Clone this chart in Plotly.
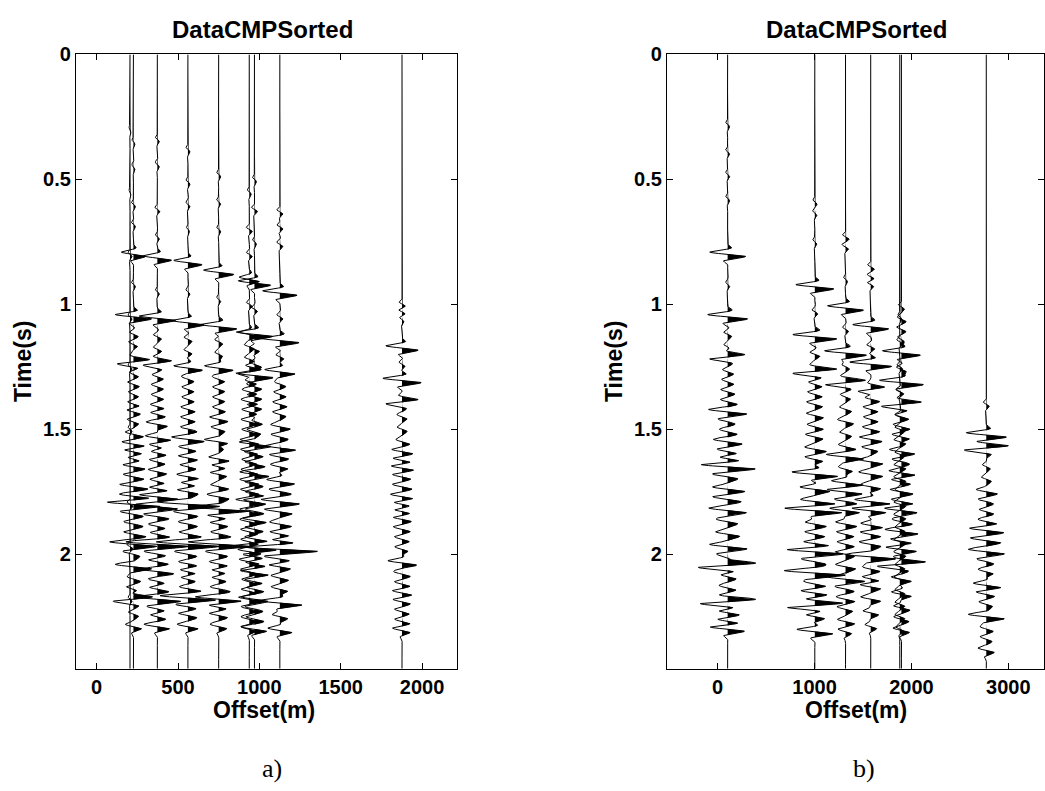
import numpy as np
import plotly.graph_objects as go

# ---------------- data ----------------
# panel a) trace offsets (m)
left_offsets = [205, 226, 373, 561, 750, 938, 970, 1126, 1877]
# event times (s) per trace
left_times = [
    [0.30, 0.55, 0.80, 1.05, 1.25, 1.50, 1.80, 1.97, 2.18],
    [0.35, 0.45, 0.60, 0.68, 0.80, 0.92, 1.05, 1.12, 1.16, 1.23, 1.28, 1.32, 1.36, 1.40, 1.43, 1.47, 1.52, 1.56,
     1.59, 1.62, 1.65, 1.69, 1.73, 1.77, 1.80, 1.84, 1.88, 1.92, 1.96, 2.00, 2.05, 2.10, 2.14, 2.18, 2.24, 2.29],
    [0.34, 0.44, 0.62, 0.73, 0.815, 0.95, 1.056, 1.13, 1.18, 1.235, 1.29, 1.33, 1.37, 1.41, 1.44, 1.48, 1.535,
     1.57, 1.595, 1.63, 1.67, 1.71, 1.74, 1.77, 1.81, 1.85, 1.89, 1.92, 1.96, 2.00, 2.03, 2.07, 2.11, 2.14, 2.18,
     2.22, 2.25, 2.29],
    [0.38, 0.51, 0.60, 0.70, 0.833, 0.95, 1.074, 1.14, 1.19, 1.255, 1.30, 1.34, 1.38, 1.42, 1.46, 1.50, 1.54,
     1.58, 1.615, 1.65, 1.69, 1.72, 1.75, 1.80, 1.84, 1.88, 1.92, 1.96, 2.00, 2.04, 2.07, 2.10, 2.14, 2.175,
     2.21, 2.245, 2.29],
    [0.48, 0.59, 0.70, 0.872, 0.98, 1.09, 1.15, 1.20, 1.255, 1.30, 1.34, 1.38, 1.42, 1.46, 1.50, 1.55, 1.57,
     1.62, 1.65, 1.68, 1.73, 1.77, 1.82, 1.85, 1.88, 1.92, 1.96, 2.00, 2.04, 2.07, 2.10, 2.14, 2.18, 2.21,
     2.245, 2.29],
    [0.55, 0.70, 0.80, 0.90, 1.00, 1.12, 1.17, 1.22, 1.27, 1.31, 1.35, 1.39, 1.43, 1.47, 1.51, 1.55, 1.59,
     1.63, 1.67, 1.71, 1.75, 1.79, 1.83, 1.87, 1.91, 1.95, 1.99, 2.03, 2.07, 2.11, 2.15, 2.18, 2.22, 2.26, 2.30],
    [0.50, 0.62, 0.75, 0.915, 1.02, 1.12, 1.18, 1.24, 1.285, 1.33, 1.37, 1.41, 1.45, 1.47, 1.51, 1.56, 1.60,
     1.64, 1.68, 1.72, 1.76, 1.79, 1.83, 1.865, 1.90, 1.94, 1.975, 2.01, 2.04, 2.075, 2.11, 2.14, 2.18, 2.22,
     2.26, 2.30],
    [0.63, 0.69, 0.76, 0.955, 1.05, 1.145, 1.21, 1.27, 1.32, 1.36, 1.40, 1.44, 1.49, 1.53, 1.575, 1.61, 1.65,
     1.71, 1.75, 1.79, 1.83, 1.88, 1.92, 1.95, 1.98, 2.02, 2.05, 2.095, 2.14, 2.195, 2.25, 2.305],
    [1.00, 1.03, 1.06, 1.175, 1.24, 1.305, 1.39, 1.45, 1.50, 1.55, 1.59, 1.625, 1.655, 1.69, 1.73, 1.77, 1.80,
     1.83, 1.86, 1.90, 1.94, 1.98, 2.035, 2.08, 2.12, 2.155, 2.19, 2.23, 2.27, 2.305],
]
# event amplitudes (relative) per trace
left_amps = [
    [1, 1, 2, 2, 2, 2, 3, 3, 2],
    [1.5, 1.5, 2, 2, 12, 2, 18, 4, 4, -16, 4, 5, 4, 5, 6, 5, 8, 10, 8, 5, 10, 8, 12, 12, 25, 8, 8, 8, 22, 6,
     18, 6, 6, -20, 5, 8],
    [2, 2, 2.5, 2, 14, 2, 18, 4, 4, -14, 5, 5, 5, 6, 6, 10, 12, 6, 8, 6, 8, 6, 8, 17, 18, 10, 7, 6, 30, 7, 8,
     15, 6, 7, 22, 6, 6, 12],
    [2, 2, 2, 1.5, 14, 2, 16, 4, 4, 14, 5, 5, 5, 6, 6, 6, 15, 6, 8, 6, 10, 6, 10, 30, 8, 8, 7, 30, 7, 8, 7, 6,
     7, 26, 6, 8, 10],
    [2, 2, 2, 15, 2, 18, 4, 4, 14, 5, 5, 5, 5, 8, 6, 16, 8, 10, 6, 8, 8, 10, 29, 7, 8, 6, 29, 7, 8, 6, 6, 7,
     22, 6, 8, 8],
    [2, 3, 3, 10, 3, 10, 5, 5, -12, 6, 6, 7, 6, 7, 6, 8, 7, 6, 7, 8, 7, 12, 7, 8, 7, 7, 10, 8, 7, 6, 7, 10, 6,
     7, 7],
    [2, 3, 2, 16, 3, 18, 5, 5, 18, 6, 6, 6, 6, 8, 6, 15, 7, 8, 13, 7, 8, 10, 7, 10, 7, 8, 20, 7, 8, 12, 7, 7,
     12, 7, 7, 12],
    [3, 3, 3, 17, 3, 19, 4, 15, 5, 5, 6, 6, 9, 7, 14, 7, 8, 13, 8, 17, 12, 10, 8, 8, 36, 8, 10, 8, 8, 22, 8, 12],
    [3, 3, 2, 16, 3, 19, -16, 5, 5, 6, 9, 7, 10, 7, 8, 10, 7, 7, 8, 7, 6, 6, 14, 7, 6, 8, 7, 6, 6, 8],
]

# panel b) trace offsets (m)
right_offsets = [103, 1003, 1320, 1580, 1880, 1897, 2773]
right_times = [
    [0.28, 0.39, 0.48, 0.576, 0.80, 0.92, 1.05, 1.12, 1.17, 1.21, 1.27, 1.31, 1.35, 1.39, 1.43, 1.47, 1.51,
     1.55, 1.59, 1.62, 1.65, 1.69, 1.74, 1.78, 1.825, 1.87, 1.92, 1.97, 2.01, 2.045, 2.09, 2.135, 2.19, 2.235,
     2.27, 2.30],
    [0.59, 0.635, 0.75, 0.93, 1.03, 1.13, 1.20, 1.268, 1.32, 1.36, 1.40, 1.445, 1.49, 1.53, 1.58, 1.62, 1.68,
     1.74, 1.79, 1.825, 1.88, 1.92, 1.96, 1.99, 2.03, 2.075, 2.12, 2.155, 2.205, 2.25, 2.31],
    [0.73, 0.77, 0.90, 1.015, 1.10, 1.195, 1.25, 1.313, 1.37, 1.42, 1.47, 1.52, 1.57, 1.61, 1.66, 1.715, 1.75,
     1.79, 1.825, 1.88, 1.92, 1.96, 2.00, 2.05, 2.10, 2.14, 2.18, 2.22, 2.27, 2.31],
    [0.85, 0.89, 0.92, 1.09, 1.17, 1.24, 1.34, 1.38, 1.42, 1.46, 1.50, 1.54, 1.58, 1.63, 1.68, 1.73, 1.79,
     1.825, 1.885, 1.92, 1.96, 2.01, 2.06, 2.10, 2.13, 2.18, 2.235, 2.29],
    [1.05, 1.15, 1.25, 1.35, 1.45, 1.50, 1.55, 1.60, 1.65, 1.70, 1.75, 1.80, 1.85, 1.90, 1.95, 2.00, 2.05,
     2.10, 2.15, 2.20, 2.25, 2.30],
    [1.01, 1.06, 1.10, 1.14, 1.195, 1.26, 1.313, 1.40, 1.45, 1.49, 1.53, 1.59, 1.63, 1.675, 1.71, 1.75, 1.79,
     1.825, 1.87, 1.91, 1.95, 1.98, 2.04, 2.10, 2.16, 2.215, 2.26, 2.305],
    [1.40, 1.523, 1.575, 1.65, 1.70, 1.75, 1.79, 1.83, 1.87, 1.905, 1.945, 1.99, 2.03, 2.07, 2.125, 2.16,
     2.20, 2.25, 2.30, 2.34, 2.385],
]
right_amps = [
    [2, 2, 2, 2, 18, 2, 20, 4, 4, -18, 5, 5, 6, 6, 18, 6, 7, 13, 8, 8, 26, 10, 15, 12, 18, 10, 12, 18, 8, -30,
     8, 8, -28, 10, 8, 17],
    [2, 2, 2, 19, 3, 22, 5, -22, 6, 6, 7, 8, 7, 8, 10, 8, 23, 15, 14, 27, 10, 8, 10, 27, 8, 30, 8, 12, -28,
     10, 18],
    [3, 3, 2, 18, 3, 21, 4, -20, 5, 6, 8, 6, 7, 18, 7, 14, 15, 8, 14, 10, 7, 7, 9, 10, 18, 7, 8, 7, 8, 6],
    [3, 3, 3, 18, 4, 21, -14, 8, 6, 6, 7, 10, 7, 12, 12, 10, 16, 15, 10, 8, 10, 25, 8, 7, 10, 10, 8, 6],
    [2, 3, 3, 4, 5, 5, 6, 5, 6, 6, 5, 6, 6, 5, 6, 6, 5, 6, 5, 5, 5, 4],
    [3, 4, 4, 3, 19, 5, 22, -20, 6, 7, 8, 12, 7, 12, 7, 10, 8, 15, 8, 15, 8, 15, -24, 10, 10, 8, 7, 8],
    [3, 20, -22, 4, 5, 10, 6, 6, 7, 15, 13, 17, 6, 7, 13, 7, 6, 18, 6, 5, 8],
]

left_xticks = [0, 500, 1000, 1500, 2000]
right_xticks = [0, 1000, 2000, 3000]
y_ticks = [0, 0.5, 1, 1.5, 2]
y_ticklabels = ["0", "0.5", "1", "1.5", "2"]

# ---------------- rendering parameters ----------------
T_MAX = 2.459
DT = 0.001
WAVE_F = 24.0       # wavelet frequency (Hz)
WAVE_S = 0.016      # wavelet gaussian width (s)
LEFT_GAIN = 6.2     # m per amplitude unit
RIGHT_GAIN = 10.3

t = np.arange(0.0, T_MAX + DT, DT)
_tau = np.arange(-0.08, 0.08 + DT / 4, DT / 4)
_wnorm = np.abs(np.sin(2 * np.pi * WAVE_F * _tau) * np.exp(-0.5 * (_tau / WAVE_S) ** 2)).max()


def trace_signal(times, amps):
    s = np.zeros_like(t)
    for t0, a in zip(times, amps):
        tau = t - t0
        s += a * np.sin(2 * np.pi * WAVE_F * tau) * np.exp(-0.5 * (tau / WAVE_S) ** 2) / _wnorm
    return s


fig = go.Figure()


def add_panel(offsets, times_list, amps_list, gain, xa, ya):
    for off, tt, aa in zip(offsets, times_list, amps_list):
        s = trace_signal(tt, aa)
        xw = off + gain * s
        xp = off + gain * np.clip(s, 0, None)
        px = np.concatenate([[off], xp, [off]])
        py = np.concatenate([[t[0]], t, [t[-1]]])
        fig.add_trace(go.Scatter(x=px, y=py, mode="lines", fill="toself", fillcolor="black",
                                 line=dict(width=0, color="black"), hoverinfo="skip",
                                 showlegend=False, xaxis=xa, yaxis=ya))
        fig.add_trace(go.Scatter(x=xw, y=t, mode="lines", line=dict(width=1, color="black"),
                                 hoverinfo="skip", showlegend=False, xaxis=xa, yaxis=ya))


add_panel(left_offsets, left_times, left_amps, LEFT_GAIN, "x", "y")
add_panel(right_offsets, right_times, right_amps, RIGHT_GAIN, "x2", "y2")

W, H = 1045, 791
ydom = [1 - 667 / H, 1 - 44 / H]
tickfont = dict(family="Liberation Sans, Arial", size=20, color="black", weight="bold")
axis_common = dict(showline=True, linecolor="black", linewidth=1.2, mirror="allticks", ticks="inside",
                   ticklen=6, tickwidth=1, tickcolor="black", showgrid=False, zeroline=False,
                   tickfont=tickfont)

fig.update_layout(
    width=W, height=H,
    margin=dict(l=0, r=0, t=0, b=0),
    paper_bgcolor="white", plot_bgcolor="white",
    xaxis=dict(domain=[76 / W, 457 / W], range=[-127, 2215], anchor="y",
               tickvals=left_xticks, ticktext=[str(v) for v in left_xticks], **axis_common),
    yaxis=dict(domain=ydom, range=[T_MAX, 0], anchor="x",
               tickvals=y_ticks, ticktext=y_ticklabels, **axis_common),
    xaxis2=dict(domain=[667 / W, 1044 / W], range=[-523, 3369], anchor="y2",
                tickvals=right_xticks, ticktext=[str(v) for v in right_xticks], **axis_common),
    yaxis2=dict(domain=ydom, range=[T_MAX, 0], anchor="x2",
                tickvals=y_ticks, ticktext=y_ticklabels, **axis_common),
)

lab = dict(family="Liberation Sans, Arial", size=23, color="black", weight="bold")
ttl = dict(family="Liberation Sans, Arial", size=24, color="black", weight="bold")
cap = dict(family="Liberation Serif, Times New Roman", size=26, color="black")


def ann(text, xpx, ypx, font, angle=0):
    fig.add_annotation(text=text, x=xpx / W, y=1 - ypx / H, xref="paper", yref="paper",
                       showarrow=False, font=font, textangle=angle, xanchor="center", yanchor="middle")


ann("DataCMPSorted", 262, 19, ttl)
ann("DataCMPSorted", 856, 19, ttl)
ann("Offset(m)", 264, 709, lab)
ann("Offset(m)", 856, 709, lab)
ann("Time(s)", 23, 356, lab, -90)
ann("Time(s)", 614, 356, lab, -90)
ann("a)", 272, 768, cap)
ann("b)", 864, 768, cap)

fig.write_html("out.html")
